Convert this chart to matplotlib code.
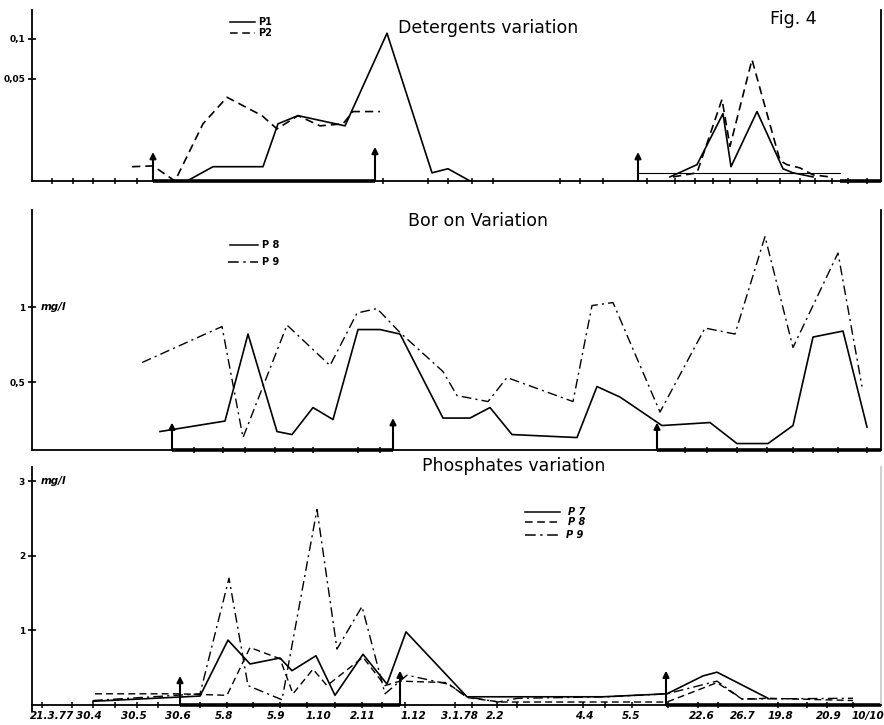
import numpy as np
import matplotlib
matplotlib.use("Agg")
import matplotlib.pyplot as plt
from matplotlib.lines import Line2D

nan = np.nan

# x positions are sampling dates placed along the (irregular) time axis of the original
date_pos    = [52, 89, 134, 178, 224, 276, 318, 363, 413, 460, 495, 584, 631, 702, 743, 780, 829, 868]
date_labels = ["21.3.77", "30.4", "30.5", "30.6", "5.8", "5.9", "1.10", "2.11", "1.12",
               "3.1.78", "2.2", "4.4", "5.5", "22.6", "26.7", "19.8", "20.9", "10/10"]

det_ticks = [52, 73, 93, 115, 137, 383, 428, 448, 472, 493, 560, 580, 603, 647, 675,
             695, 713, 730, 757, 780, 800, 815, 832, 848, 867]
bor_ticks = [194, 223, 245, 275, 293, 313, 358, 380, 685, 707, 737, 767, 793, 813, 838, 867]
pho_ticks = [42, 72, 93, 115, 137, 158, 178, 200, 227, 253, 280, 307, 335, 362, 382, 405,
             455, 472, 497, 517, 583, 605, 632, 668, 698, 718, 743, 778, 807, 827, 853]

# Detergents (mg/l)
det_p1_x = [173, 187, 213, 263, 278, 298, 345, 387, 432, 448, 470, nan,
            670, 697, 723, 731, 757, 783, 793, 813]
det_p1_y = [0.0, 0.0, 0.007, 0.007, 0.028, 0.032, 0.027, 0.107, 0.004, 0.006, 0.0, nan,
            0.002, 0.008, 0.033, 0.007, 0.034, 0.006, 0.004, 0.002]
det_p2_x = [132, 153, 175, 203, 227, 262, 277, 298, 320, 343, 353, 380, nan,
            673, 697, 722, 730, 752, 780, 787, 800, 813, 830]
det_p2_y = [0.007, 0.0074, 0.0, 0.028, 0.041, 0.032, 0.0255, 0.032, 0.027, 0.028, 0.034, 0.034, nan,
            0.002, 0.004, 0.040, 0.017, 0.074, 0.010, 0.008, 0.0064, 0.003, 0.002]
det_ref_x = [638, 840]
det_ref_y = [0.004, 0.004]
det_arrow_x = [153, 375, 638]
det_arrow_top = [0.0142, 0.0167, 0.0142]

# Boron (mg/l)
bor_p8_x = [160, 225, 248, 277, 292, 313, 333, 358, 380, 400, 443, 470, 490, 512, 577,
            597, 620, 662, 710, 737, 768, 793, 813, 843, 867]
bor_p8_y = [0.17, 0.24, 0.82, 0.17, 0.15, 0.33, 0.25, 0.85, 0.85, 0.82, 0.26, 0.26, 0.33,
            0.15, 0.13, 0.47, 0.40, 0.21, 0.23, 0.09, 0.09, 0.21, 0.80, 0.84, 0.20]
bor_p9_x = [142, 222, 243, 287, 330, 357, 377, 400, 443, 457, 488, 507, 573, 592, 613,
            660, 705, 735, 765, 793, 838, 862]
bor_p9_y = [0.63, 0.87, 0.13, 0.88, 0.61, 0.96, 0.99, 0.83, 0.57, 0.41, 0.37, 0.53, 0.37,
            1.01, 1.03, 0.30, 0.86, 0.82, 1.47, 0.73, 1.36, 0.47]
bor_arrow_x = [172, 393, 657]
bor_arrow_top = [0.23, 0.26, 0.23]

# Phosphates (mg/l)
pho_p7_x = [93, 200, 228, 250, 280, 292, 316, 335, 363, 387, 406, 467, 603, 667, 703, 717, 768]
pho_p7_y = [0.05, 0.12, 0.87, 0.55, 0.63, 0.46, 0.66, 0.13, 0.68, 0.28, 0.98, 0.11, 0.11,
            0.15, 0.39, 0.44, 0.09]
pho_p8_x = [95, 177, 227, 250, 280, 293, 313, 327, 363, 385, 400, 447, 467, 500, 667,
            717, 742, 768, 853]
pho_p8_y = [0.15, 0.15, 0.13, 0.77, 0.62, 0.15, 0.48, 0.26, 0.64, 0.26, 0.32, 0.30, 0.10,
            0.04, 0.04, 0.30, 0.08, 0.09, 0.06]
pho_p9_x = [93, 200, 229, 248, 282, 317, 337, 362, 385, 407, 448, 467, 498, 518, 607,
            667, 717, 742, 853]
pho_p9_y = [0.06, 0.15, 1.70, 0.26, 0.07, 2.62, 0.75, 1.32, 0.15, 0.40, 0.28, 0.11, 0.04,
            0.09, 0.11, 0.15, 0.32, 0.08, 0.09]
pho_arrow_x = [180, 400, 666]
pho_arrow_top = [0.39, 0.46, 0.46]

W, H = 884, 725
def fx(x):
    return x / W
def fy(y):
    return 1 - y / H

DASH = (0, (5, 3))
DASHDOT = (0, (7, 3, 1.5, 3))
LW = 1.2
TITLE_FS = 12.5

fig = plt.figure(figsize=(8.84, 7.25), dpi=100)

def make_axes(top, bottom):
    ax = fig.add_axes([fx(32), fy(bottom), fx(881) - fx(32), (bottom - top) / H])
    ax.set_xlim(32, 881)
    ax.spines["top"].set_visible(False)
    for s in ("left", "bottom", "right"):
        ax.spines[s].set_linewidth(1.3)
    ax.tick_params(axis="y", direction="inout", length=6, width=1.2, labelsize=6.5, pad=2)
    return ax

def finish_x(ax, ticks, thick, labels=False):
    ax.set_xticks(ticks, minor=True)
    ax.tick_params(axis="x", which="minor", direction="inout", length=5, width=1.1)
    if labels:
        ax.set_xticks(date_pos)
        ax.set_xticklabels(date_labels, fontsize=7.5, fontstyle="italic", fontweight="bold")
        ax.tick_params(axis="x", which="major", length=0, pad=4)
    else:
        ax.set_xticks([])
    y0 = ax.get_ylim()[0]
    for a, b in thick:
        ax.plot([a, b], [y0, y0], color="k", lw=2.6, solid_capstyle="butt", clip_on=False)

def arrows(ax, xs, tops):
    y0 = ax.get_ylim()[0]
    for x, t in zip(xs, tops):
        ax.annotate("", xy=(x, t), xytext=(x, y0),
                    arrowprops=dict(arrowstyle="-|>", color="k", lw=1.5, mutation_scale=9,
                                    shrinkA=0, shrinkB=0))

def legend_entry(x0, x1, y, ls, label, lx, italic=False):
    fig.add_artist(Line2D([fx(x0), fx(x1)], [fy(y), fy(y)], transform=fig.transFigure,
                          color="k", lw=1.1, linestyle=ls))
    fig.text(fx(lx), fy(y), label, va="center", ha="left", fontsize=7, fontweight="bold",
             fontstyle="italic" if italic else "normal")

# ---------------- Detergents ----------------
def det_fwd(v):
    v = np.asarray(v, dtype=float)
    return np.where(v < 0.05, v * 2040.0, 102.0 + (v - 0.05) * 800.0)

def det_inv(r):
    r = np.asarray(r, dtype=float)
    return np.where(r < 102.0, r / 2040.0, 0.05 + (r - 102.0) / 800.0)

ax1 = make_axes(10, 181)
ax1.set_yscale("function", functions=(det_fwd, det_inv))
ax1.set_ylim(0, 0.136)
ax1.set_yticks([0.05, 0.1])
ax1.set_yticklabels(["0,05", "0,1"], fontweight="bold")
ax1.yaxis.set_minor_locator(matplotlib.ticker.NullLocator())
ax1.plot(det_p1_x, det_p1_y, color="k", lw=LW)
ax1.plot(det_p2_x, det_p2_y, color="k", lw=LW, linestyle=DASH)
ax1.plot(det_ref_x, det_ref_y, color="k", lw=0.8)
finish_x(ax1, det_ticks, [(153, 375), (840, 881)])
arrows(ax1, det_arrow_x, det_arrow_top)

fig.text(fx(398), fy(28), "Detergents variation", fontsize=TITLE_FS, va="center", ha="left")
fig.text(fx(770), fy(19), "Fig. 4", fontsize=TITLE_FS, va="center", ha="left")
legend_entry(230, 255, 22, "-", "P1", 258)
legend_entry(230, 255, 33, DASH, "P2", 258)

# ---------------- Boron ----------------
ax2 = make_axes(210, 450)
ax2.set_ylim(0.047, 1.647)
ax2.set_yticks([0.5, 1.0])
ax2.set_yticklabels(["0,5", "1"], fontweight="bold")
ax2.plot(bor_p8_x, bor_p8_y, color="k", lw=LW)
ax2.plot(bor_p9_x, bor_p9_y, color="k", lw=1.0, linestyle=DASHDOT)
finish_x(ax2, bor_ticks, [(172, 393), (657, 881)])
arrows(ax2, bor_arrow_x, bor_arrow_top)
ax2.text(41, 1.0, "mg/l", fontsize=7.5, fontweight="bold", fontstyle="italic", va="center")

fig.text(fx(408), fy(221), "Bor on Variation", fontsize=TITLE_FS, va="center", ha="left")
legend_entry(230, 258, 245, "-", "P 8", 262)
legend_entry(228, 258, 262, DASHDOT, "P 9", 262)

# ---------------- Phosphates ----------------
ax3 = make_axes(467, 705)
ax3.set_ylim(0, 3.19)
ax3.set_yticks([1, 2, 3])
ax3.set_yticklabels(["1", "2", "3"], fontweight="bold")
ax3.plot(pho_p7_x, pho_p7_y, color="k", lw=LW)
ax3.plot(pho_p8_x, pho_p8_y, color="k", lw=1.0, linestyle=DASH)
ax3.plot(pho_p9_x, pho_p9_y, color="k", lw=1.0, linestyle=DASHDOT)
finish_x(ax3, pho_ticks, [(180, 400), (666, 881)], labels=True)
arrows(ax3, pho_arrow_x, pho_arrow_top)
# left axis of the lower panel runs a little below the baseline
ax3.plot([0, 0], [0, -0.075], transform=ax3.get_yaxis_transform(), color="k", lw=1.3, clip_on=False)
ax3.spines["right"].set_color("0.8")
ax3.text(41, 3.0, "mg/l", fontsize=7.5, fontweight="bold", fontstyle="italic", va="center")

fig.text(fx(422), fy(466), "Phosphates variation", fontsize=TITLE_FS, va="center", ha="left")
legend_entry(525, 560, 512, "-", "P 7", 568, italic=True)
legend_entry(525, 560, 522, DASH, "P 8", 568, italic=True)
legend_entry(525, 562, 535, DASHDOT, "P 9", 566, italic=True)

fig.savefig("out.png", dpi=100, facecolor="white")
